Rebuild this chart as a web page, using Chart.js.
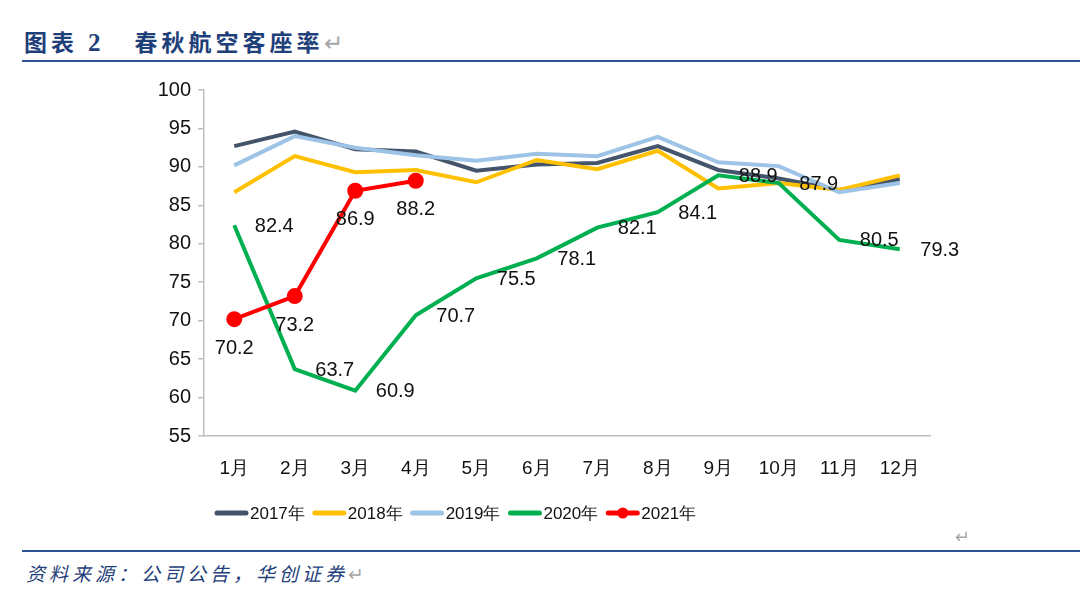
<!DOCTYPE html>
<html>
<head>
<meta charset="utf-8">
<script src="https://cdn.jsdelivr.net/npm/chart.js@4"></script>
<style>
  body { margin:0; width:1080px; height:592px; background:#fff; position:relative; overflow:hidden; font-family:"Liberation Sans", Arial, sans-serif; }
  .title { position:absolute; left:24px; top:24px; font-family:"Noto Sans CJK SC", sans-serif; font-weight:700; font-size:23px; color:#1f3f7a; letter-spacing:4px; white-space:nowrap; }
  .title .num { font-family:"Liberation Serif", serif; font-size:25px; margin:0 30px 0 10px; }
  .mark { color:#a6a6a6; font-weight:400; font-style:normal; letter-spacing:0; }
  .rule { position:absolute; left:22px; right:0; height:2px; background:#2f5496; }
  .src { position:absolute; left:26px; top:559px; font-family:"Noto Sans CJK SC", sans-serif; font-style:italic; font-size:19px; color:#1f3f7a; letter-spacing:4px; white-space:nowrap; }
  .enter { position:absolute; left:955px; top:526px; color:#a6a6a6; font-size:18px; }
  #wrap { position:absolute; left:130px; top:70px; width:860px; height:470px; }
</style>
</head>
<body>
<div class="title">图表<span class="num">2</span>春秋航空客座率<span class="mark">↵</span></div>
<div class="rule" style="top:60px"></div>
<div id="wrap"><canvas id="grafica"></canvas></div>
<div class="enter">↵</div>
<div class="rule" style="top:550px"></div>
<div class="src">资料来源：公司公告，华创证券<span class="mark">↵</span></div>

<script>
const meses = ["1月","2月","3月","4月","5月","6月","7月","8月","9月","10月","11月","12月"];
const serie2017 = [92.7, 94.6, 92.3, 92.0, 89.5, 90.3, 90.5, 92.7, 89.6, 88.5, 87.0, 88.4];
const serie2018 = [86.7, 91.4, 89.3, 89.6, 88.0, 90.9, 89.7, 92.1, 87.2, 87.9, 87.0, 88.9];
const serie2019 = [90.2, 94.0, 92.5, 91.5, 90.8, 91.7, 91.4, 93.9, 90.6, 90.1, 86.7, 87.9];
const serie2020 = [82.4, 63.7, 60.9, 70.7, 75.5, 78.1, 82.1, 84.1, 88.9, 87.9, 80.5, 79.3];
const serie2021 = [70.2, 73.2, 86.9, 88.2];
const yTicks = [55, 60, 65, 70, 75, 80, 85, 90, 95, 100];

const FONT = "'Liberation Sans', Arial, sans-serif";

function linea(label, data, color, order, extra={}) {
  return { label, data, borderColor: color, backgroundColor: color, borderWidth: 4,
    pointRadius: 0, tension: 0, order, ...extra };
}

// etiquetas: 2020 a la derecha, 2021 debajo
const etiquetas = {
  id: "etiquetas",
  afterDatasetsDraw(c) {
    const ctx = c.ctx;
    ctx.save();
    ctx.font = `20px ${FONT}`;
    ctx.fillStyle = "#111";
    ctx.textAlign = "center";
    ctx.textBaseline = "middle";
    c.getDatasetMeta(3).data.forEach((p, i) => ctx.fillText(serie2020[i].toFixed(1), p.x + 40, p.y + 1));
    c.getDatasetMeta(4).data.forEach((p, i) => ctx.fillText(serie2021[i].toFixed(1), p.x, p.y + 29));
    ctx.restore();
  }
};

const leyenda = {
  id: "leyenda",
  afterDraw(c) {
    const ctx = c.ctx;
    ctx.save();
    ctx.font = `17px ${FONT}`;
    ctx.textBaseline = "middle";
    let x = 85;
    const y = 443;
    c.data.datasets.forEach(ds => {
      ctx.strokeStyle = ds.borderColor;
      ctx.lineWidth = 5;
      ctx.lineCap = "round";
      ctx.beginPath(); ctx.moveTo(x + 2, y); ctx.lineTo(x + 31, y); ctx.stroke();
      if (ds.pointRadius > 0) {
        ctx.fillStyle = ds.borderColor;
        ctx.beginPath(); ctx.arc(x + 16.5, y, 5.5, 0, Math.PI * 2); ctx.fill();
      }
      ctx.fillStyle = "#111";
      ctx.fillText(ds.label, x + 35, y + 1);
      x += 35 + ctx.measureText(ds.label).width + 8;
    });
    ctx.restore();
  }
};

new Chart(document.getElementById("grafica"), {
  type: "line",
  data: {
    labels: meses,
    datasets: [
      linea("2017年", serie2017, "#44546a", 5),
      linea("2018年", serie2018, "#ffc000", 4),
      linea("2019年", serie2019, "#9dc3e6", 3),
      linea("2020年", serie2020, "#00b050", 2),
      linea("2021年", serie2021, "#ff0000", 1, { pointRadius: 6, pointHoverRadius: 6 })
    ]
  },
  options: {
    responsive: true,
    maintainAspectRatio: false,
    animation: false,
    layout: { padding: { left: 0, right: 60, top: 20, bottom: 44 } },
    scales: {
      x: {
        offset: true,
        grid: { display: true, offset: true, drawOnChartArea: false, drawTicks: false },
        border: { display: true, color: "#bfbfbf", width: 1.5 },
        ticks: { color: "#111", font: { family: FONT, size: 19 }, padding: 21, maxRotation: 0 },
        afterFit(s) { s.height = 60; }
      },
      y: {
        min: 55, max: 100,
        afterBuildTicks(s) { s.ticks = yTicks.map(v => ({ value: v })); },
        grid: { display: true, drawOnChartArea: false, drawTicks: true, tickLength: 6, color: "#bfbfbf", lineWidth: 1.5 },
        border: { display: true, color: "#bfbfbf", width: 1.5 },
        ticks: { color: "#111", font: { family: FONT, size: 20 }, padding: 7 },
        afterFit(s) { s.width = 74; }
      }
    },
    plugins: {
      legend: { display: false },
      tooltip: { enabled: false }
    }
  },
  plugins: [etiquetas, leyenda]
});
</script>
</body>
</html>
